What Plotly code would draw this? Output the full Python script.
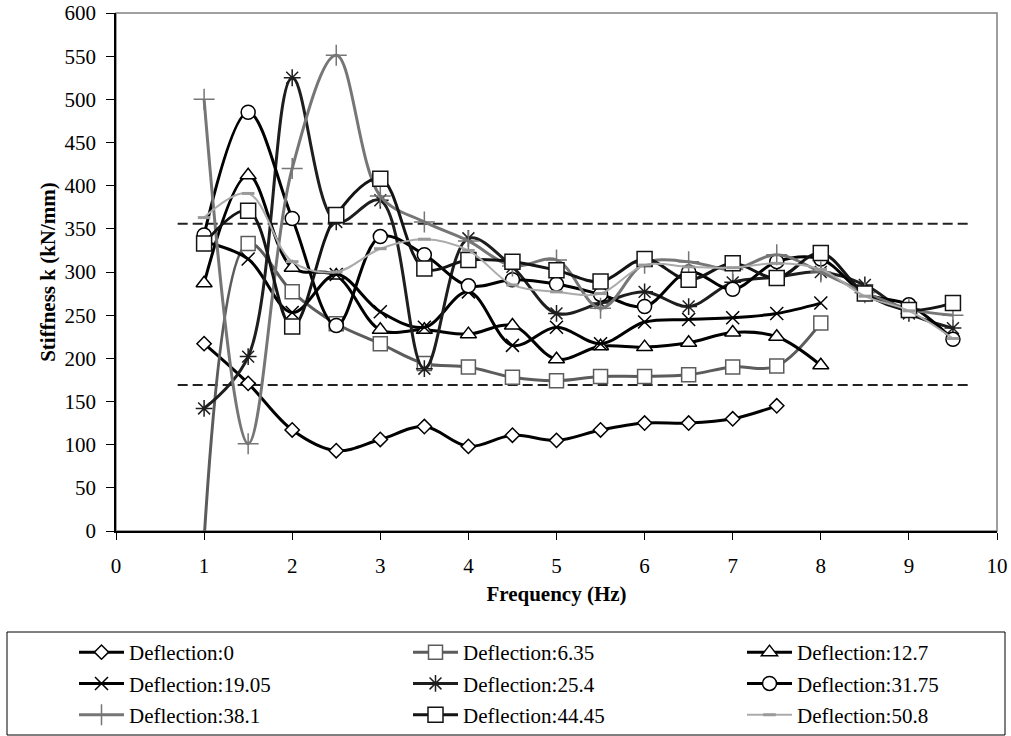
import plotly.graph_objects as go

# ---------------- data ----------------
freq_all = [1.0, 1.5, 2.0, 2.5, 3.0, 3.5, 4.0, 4.5, 5.0, 5.5, 6.0, 6.5, 7.0, 7.5, 8.0, 8.5, 9.0, 9.5]
freq_to8 = freq_all[:15]
freq_to75 = freq_all[:14]

defl_0 = [217, 171, 117, 93, 106, 121, 98, 111, 105, 117, 125, 125, 130, 145]
defl_6_35 = [-10, 333, 277, 240, 217, 194, 190, 178, 174, 179, 179, 181, 190, 191, 241]
defl_12_7 = [287, 412, 305, 296, 233, 233, 228, 238, 199, 214, 213, 218, 230, 225, 192]
defl_19_05 = [335, 315, 253, 297, 254, 236, 277, 215, 236, 217, 242, 245, 247, 252, 264]
defl_25_4 = [142, 202, 525, 358, 383, 188, 339, 306, 252, 264, 277, 260, 288, 294, 300, 285, 252, 235]
defl_31_75 = [343, 485, 362, 238, 341, 320, 284, 291, 286, 274, 260, 300, 280, 312, 315, 275, 262, 222]
defl_38_1 = [500, 101, 420, 551, 388, 358, 336, 307, 314, 258, 310, 312, 303, 320, 300, 276, 257, 250]
defl_44_45 = [333, 371, 237, 366, 408, 304, 314, 312, 302, 289, 315, 291, 310, 293, 322, 275, 256, 264]
defl_50_8 = [363, 391, 312, 300, 327, 338, 325, 285, 277, 275, 308, 306, 305, 310, 303, 272, 255, 223]

series_names = ["Deflection:0", "Deflection:6.35", "Deflection:12.7",
                "Deflection:19.05", "Deflection:25.4", "Deflection:31.75",
                "Deflection:38.1", "Deflection:44.45", "Deflection:50.8"]

bound_x = [0.7, 9.7]
upper_bound = [356, 356]
lower_bound = [169, 169]

x_ticks = [0, 1, 2, 3, 4, 5, 6, 7, 8, 9, 10]
y_ticks = [0, 50, 100, 150, 200, 250, 300, 350, 400, 450, 500, 550, 600]

# ---------------- styles ----------------
FONT = "'Liberation Serif', 'Times New Roman', serif"
styles = [
    # x, y, line color, line width, symbol, size, marker fill, marker line color, legend
    (freq_to75, defl_0, "#000000", 3, "diamond", 11, "white", "#000000", "legend"),
    (freq_to8, defl_6_35, "#5c5c5c", 3, "square", 14, "white", "#5c5c5c", "legend2"),
    (freq_to8, defl_12_7, "#000000", 3, "triangle-up", 14, "white", "#000000", "legend3"),
    (freq_to8, defl_19_05, "#000000", 3, "x-thin-open", 13, "#000000", "#000000", "legend"),
    (freq_all, defl_25_4, "#1e1e1e", 3, "asterisk-open", 14, "#1e1e1e", "#1e1e1e", "legend2"),
    (freq_all, defl_31_75, "#000000", 3, "circle", 14, "white", "#000000", "legend3"),
    (freq_all, defl_38_1, "#767676", 3, "cross-thin-open", 15, "#767676", "#767676", "legend"),
    (freq_all, defl_44_45, "#141414", 3, "square", 15, "white", "#141414", "legend2"),
    (freq_all, defl_50_8, "#ababab", 2, "line-ew-open", 9, "#9a9a9a", "#9a9a9a", "legend3"),
]

fig = go.Figure()

for bx, by in ((bound_x, upper_bound), (bound_x, lower_bound)):
    fig.add_trace(go.Scatter(
        x=bx, y=by, mode="lines", showlegend=False, hoverinfo="skip",
        line=dict(color="#222222", width=2, dash="10px,5px")))

for name, (xs, ys, lc, lw, sym, sz, fill, mlc, leg) in zip(series_names, styles):
    fig.add_trace(go.Scatter(
        x=xs, y=ys, name=name, mode="lines+markers", legend=leg,
        legendgroup=name,
        line=dict(color=lc, width=lw, shape="spline", smoothing=1.0),
        marker=dict(symbol=sym, size=sz, color=fill,
                    line=dict(color=mlc, width=3 if sym == "line-ew-open" else 1.5)),
    ))

# plot area geometry (pixels)
W, H = 1011, 736
L, R, T, B = 116, 14, 13, 205
pw = W - L - R
ph = H - T - B

def px_x(p):
    return (p - L) / pw

def px_y(p):
    return (H - B - p) / ph

legend_common = dict(
    orientation="v", xanchor="left", yanchor="top",
    font=dict(family=FONT, size=21, color="black"),
    bgcolor="rgba(0,0,0,0)", borderwidth=0, itemwidth=45,
    tracegroupgap=1, itemclick=False,
)

fig.update_layout(
    width=W, height=H,
    margin=dict(l=L, r=R, t=T, b=B, autoexpand=False),
    paper_bgcolor="white", plot_bgcolor="white",
    font=dict(family=FONT, size=21, color="black"),
    legend=dict(x=px_x(74), y=px_y(632), **legend_common),
    legend2=dict(x=px_x(408), y=px_y(632), **legend_common),
    legend3=dict(x=px_x(742), y=px_y(632), **legend_common),
    shapes=[
        dict(type="rect", xref="paper", yref="paper", x0=0, x1=1, y0=0, y1=1,
             line=dict(color="#808080", width=1.5), layer="below"),
        dict(type="rect", xref="paper", yref="paper",
             x0=px_x(7), x1=px_x(1005), y0=px_y(632), y1=px_y(735),
             line=dict(color="#000000", width=1), layer="above"),
    ],
)

fig.update_xaxes(
    range=[0, 10], tickvals=x_ticks, ticktext=[str(v) for v in x_ticks],
    showgrid=False, zeroline=False, showline=True, linecolor="black", linewidth=1.5,
    ticks="outside", ticklen=7, tickcolor="black", tickwidth=1,
    ticklabelstandoff=8,
    tickfont=dict(family=FONT, size=21, color="black"),
    title=dict(text="<b>Frequency (Hz)</b>", font=dict(family=FONT, size=21, color="black"),
               standoff=9),
)
fig.update_yaxes(
    range=[0, 600], tickvals=y_ticks, ticktext=[str(v) for v in y_ticks],
    showgrid=False, zeroline=False, showline=True, linecolor="black", linewidth=1.5,
    ticks="outside", ticklen=8, tickcolor="black", tickwidth=1,
    ticklabelstandoff=6,
    tickfont=dict(family=FONT, size=21, color="black"),
    title=dict(text="<b>Stiffness k (kN/mm)</b>", font=dict(family=FONT, size=21, color="black"),
               standoff=3),
)

fig.write_html("out.html", config={"displayModeBar": False},
               post_script="document.body.style.margin='0';")
